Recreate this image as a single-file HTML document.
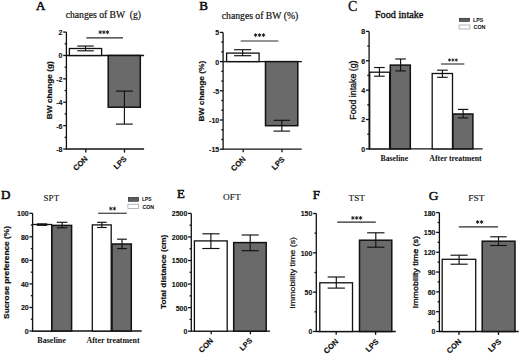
<!DOCTYPE html><html><head><meta charset="utf-8"><style>html,body{margin:0;padding:0;background:#fff;overflow:hidden}svg{display:block}</style></head><body>
<svg width="520" height="354" viewBox="0 0 520 354">
<rect width="520" height="354" fill="#fff"/>
<line x1="66.40" y1="32.10" x2="66.40" y2="149.60" stroke="#111" stroke-width="1.3"/>
<line x1="63.20" y1="32.10" x2="66.40" y2="32.10" stroke="#111" stroke-width="1.3"/>
<line x1="63.20" y1="55.48" x2="66.40" y2="55.48" stroke="#111" stroke-width="1.3"/>
<line x1="63.20" y1="78.86" x2="66.40" y2="78.86" stroke="#111" stroke-width="1.3"/>
<line x1="63.20" y1="102.24" x2="66.40" y2="102.24" stroke="#111" stroke-width="1.3"/>
<line x1="63.20" y1="125.62" x2="66.40" y2="125.62" stroke="#111" stroke-width="1.3"/>
<line x1="63.20" y1="149.00" x2="66.40" y2="149.00" stroke="#111" stroke-width="1.3"/>
<line x1="64.60" y1="43.79" x2="66.40" y2="43.79" stroke="#111" stroke-width="1.3"/>
<line x1="64.60" y1="67.17" x2="66.40" y2="67.17" stroke="#111" stroke-width="1.3"/>
<line x1="64.60" y1="90.55" x2="66.40" y2="90.55" stroke="#111" stroke-width="1.3"/>
<line x1="64.60" y1="113.93" x2="66.40" y2="113.93" stroke="#111" stroke-width="1.3"/>
<line x1="64.60" y1="137.31" x2="66.40" y2="137.31" stroke="#111" stroke-width="1.3"/>
<line x1="66.40" y1="55.48" x2="144.10" y2="55.48" stroke="#111" stroke-width="1.3"/>
<line x1="66.40" y1="149.00" x2="144.10" y2="149.00" stroke="#111" stroke-width="1.3"/>
<line x1="85.80" y1="149.00" x2="85.80" y2="152.60" stroke="#111" stroke-width="1.3"/>
<line x1="124.50" y1="149.00" x2="124.50" y2="152.60" stroke="#111" stroke-width="1.3"/>
<rect x="69.40" y="48.50" width="32.20" height="6.98" fill="#fff" stroke="#111" stroke-width="1.3"/>
<line x1="85.50" y1="46.05" x2="85.50" y2="50.80" stroke="#111" stroke-width="1.15"/>
<line x1="77.25" y1="46.05" x2="93.75" y2="46.05" stroke="#111" stroke-width="1.15"/>
<line x1="77.25" y1="50.80" x2="93.75" y2="50.80" stroke="#111" stroke-width="1.15"/>
<rect x="108.20" y="55.48" width="32.10" height="51.72" fill="#6a6a6a" stroke="#111" stroke-width="1.5"/>
<line x1="124.40" y1="91.10" x2="124.40" y2="124.10" stroke="#111" stroke-width="1.15"/>
<line x1="116.00" y1="91.10" x2="132.80" y2="91.10" stroke="#111" stroke-width="1.15"/>
<line x1="116.00" y1="124.10" x2="132.80" y2="124.10" stroke="#111" stroke-width="1.15"/>
<line x1="86.40" y1="37.85" x2="123.00" y2="37.85" stroke="#2a2a2a" stroke-width="1.1"/>
<line x1="223.10" y1="32.40" x2="223.10" y2="149.80" stroke="#111" stroke-width="1.3"/>
<line x1="219.90" y1="32.40" x2="223.10" y2="32.40" stroke="#111" stroke-width="1.3"/>
<line x1="219.90" y1="61.60" x2="223.10" y2="61.60" stroke="#111" stroke-width="1.3"/>
<line x1="219.90" y1="90.80" x2="223.10" y2="90.80" stroke="#111" stroke-width="1.3"/>
<line x1="219.90" y1="120.00" x2="223.10" y2="120.00" stroke="#111" stroke-width="1.3"/>
<line x1="219.90" y1="149.20" x2="223.10" y2="149.20" stroke="#111" stroke-width="1.3"/>
<line x1="221.30" y1="42.13" x2="223.10" y2="42.13" stroke="#111" stroke-width="1.3"/>
<line x1="221.30" y1="51.87" x2="223.10" y2="51.87" stroke="#111" stroke-width="1.3"/>
<line x1="221.30" y1="71.33" x2="223.10" y2="71.33" stroke="#111" stroke-width="1.3"/>
<line x1="221.30" y1="81.07" x2="223.10" y2="81.07" stroke="#111" stroke-width="1.3"/>
<line x1="221.30" y1="100.53" x2="223.10" y2="100.53" stroke="#111" stroke-width="1.3"/>
<line x1="221.30" y1="110.27" x2="223.10" y2="110.27" stroke="#111" stroke-width="1.3"/>
<line x1="221.30" y1="129.73" x2="223.10" y2="129.73" stroke="#111" stroke-width="1.3"/>
<line x1="221.30" y1="139.47" x2="223.10" y2="139.47" stroke="#111" stroke-width="1.3"/>
<line x1="223.10" y1="61.60" x2="301.90" y2="61.60" stroke="#111" stroke-width="1.3"/>
<line x1="223.10" y1="149.20" x2="301.70" y2="149.20" stroke="#111" stroke-width="1.3"/>
<line x1="243.20" y1="149.20" x2="243.20" y2="152.20" stroke="#111" stroke-width="1.3"/>
<line x1="282.00" y1="149.20" x2="282.00" y2="152.20" stroke="#111" stroke-width="1.3"/>
<rect x="226.60" y="53.10" width="32.50" height="8.50" fill="#fff" stroke="#111" stroke-width="1.3"/>
<line x1="242.65" y1="49.70" x2="242.65" y2="55.70" stroke="#111" stroke-width="1.15"/>
<line x1="234.10" y1="49.70" x2="251.20" y2="49.70" stroke="#111" stroke-width="1.15"/>
<line x1="234.10" y1="55.70" x2="251.20" y2="55.70" stroke="#111" stroke-width="1.15"/>
<rect x="265.50" y="61.60" width="32.30" height="64.10" fill="#6a6a6a" stroke="#111" stroke-width="1.5"/>
<line x1="281.80" y1="120.30" x2="281.80" y2="131.10" stroke="#111" stroke-width="1.15"/>
<line x1="273.50" y1="120.30" x2="290.10" y2="120.30" stroke="#111" stroke-width="1.15"/>
<line x1="273.50" y1="131.10" x2="290.10" y2="131.10" stroke="#111" stroke-width="1.15"/>
<line x1="240.70" y1="41.00" x2="278.30" y2="41.00" stroke="#2a2a2a" stroke-width="1.1"/>
<line x1="369.10" y1="31.40" x2="369.10" y2="149.50" stroke="#111" stroke-width="1.3"/>
<line x1="365.90" y1="31.40" x2="369.10" y2="31.40" stroke="#111" stroke-width="1.3"/>
<line x1="365.90" y1="60.77" x2="369.10" y2="60.77" stroke="#111" stroke-width="1.3"/>
<line x1="365.90" y1="90.15" x2="369.10" y2="90.15" stroke="#111" stroke-width="1.3"/>
<line x1="365.90" y1="119.53" x2="369.10" y2="119.53" stroke="#111" stroke-width="1.3"/>
<line x1="365.90" y1="148.90" x2="369.10" y2="148.90" stroke="#111" stroke-width="1.3"/>
<line x1="367.30" y1="46.09" x2="369.10" y2="46.09" stroke="#111" stroke-width="1.3"/>
<line x1="367.30" y1="75.46" x2="369.10" y2="75.46" stroke="#111" stroke-width="1.3"/>
<line x1="367.30" y1="104.84" x2="369.10" y2="104.84" stroke="#111" stroke-width="1.3"/>
<line x1="367.30" y1="134.21" x2="369.10" y2="134.21" stroke="#111" stroke-width="1.3"/>
<line x1="369.10" y1="148.90" x2="482.60" y2="148.90" stroke="#111" stroke-width="1.3"/>
<rect x="369.70" y="72.20" width="19.90" height="76.70" fill="#fff" stroke="#111" stroke-width="1.3"/>
<line x1="379.40" y1="67.50" x2="379.40" y2="76.20" stroke="#111" stroke-width="1.15"/>
<line x1="374.10" y1="67.50" x2="384.70" y2="67.50" stroke="#111" stroke-width="1.15"/>
<line x1="374.10" y1="76.20" x2="384.70" y2="76.20" stroke="#111" stroke-width="1.15"/>
<rect x="390.30" y="65.10" width="20.00" height="83.80" fill="#6a6a6a" stroke="#111" stroke-width="1.5"/>
<line x1="400.60" y1="59.00" x2="400.60" y2="70.90" stroke="#111" stroke-width="1.15"/>
<line x1="395.30" y1="59.00" x2="405.90" y2="59.00" stroke="#111" stroke-width="1.15"/>
<line x1="395.30" y1="70.90" x2="405.90" y2="70.90" stroke="#111" stroke-width="1.15"/>
<rect x="432.20" y="73.50" width="20.30" height="75.40" fill="#fff" stroke="#111" stroke-width="1.3"/>
<line x1="442.40" y1="70.20" x2="442.40" y2="77.30" stroke="#111" stroke-width="1.15"/>
<line x1="437.10" y1="70.20" x2="447.70" y2="70.20" stroke="#111" stroke-width="1.15"/>
<line x1="437.10" y1="77.30" x2="447.70" y2="77.30" stroke="#111" stroke-width="1.15"/>
<rect x="452.90" y="114.00" width="20.00" height="34.90" fill="#6a6a6a" stroke="#111" stroke-width="1.5"/>
<line x1="463.10" y1="109.40" x2="463.10" y2="117.90" stroke="#111" stroke-width="1.15"/>
<line x1="457.90" y1="109.40" x2="468.30" y2="109.40" stroke="#111" stroke-width="1.15"/>
<line x1="457.90" y1="117.90" x2="468.30" y2="117.90" stroke="#111" stroke-width="1.15"/>
<line x1="441.00" y1="64.00" x2="464.30" y2="64.00" stroke="#2a2a2a" stroke-width="1.1"/>
<rect x="459.30" y="18.20" width="10.40" height="3.30" fill="#5e5c5e" stroke="#111" stroke-width="0.5"/>
<rect x="459.10" y="25.00" width="10.80" height="4.00" fill="#fff" stroke="#9a9a9a" stroke-width="0.7"/>
<line x1="32.60" y1="213.30" x2="32.60" y2="331.60" stroke="#111" stroke-width="1.3"/>
<line x1="29.40" y1="213.30" x2="32.60" y2="213.30" stroke="#111" stroke-width="1.3"/>
<line x1="29.40" y1="236.84" x2="32.60" y2="236.84" stroke="#111" stroke-width="1.3"/>
<line x1="29.40" y1="260.38" x2="32.60" y2="260.38" stroke="#111" stroke-width="1.3"/>
<line x1="29.40" y1="283.92" x2="32.60" y2="283.92" stroke="#111" stroke-width="1.3"/>
<line x1="29.40" y1="307.46" x2="32.60" y2="307.46" stroke="#111" stroke-width="1.3"/>
<line x1="29.40" y1="331.00" x2="32.60" y2="331.00" stroke="#111" stroke-width="1.3"/>
<line x1="30.80" y1="225.07" x2="32.60" y2="225.07" stroke="#111" stroke-width="1.3"/>
<line x1="30.80" y1="248.61" x2="32.60" y2="248.61" stroke="#111" stroke-width="1.3"/>
<line x1="30.80" y1="272.15" x2="32.60" y2="272.15" stroke="#111" stroke-width="1.3"/>
<line x1="30.80" y1="295.69" x2="32.60" y2="295.69" stroke="#111" stroke-width="1.3"/>
<line x1="30.80" y1="319.23" x2="32.60" y2="319.23" stroke="#111" stroke-width="1.3"/>
<line x1="32.60" y1="331.00" x2="141.70" y2="331.00" stroke="#111" stroke-width="1.3"/>
<rect x="32.60" y="224.50" width="19.10" height="106.50" fill="#fff" stroke="#111" stroke-width="1.3"/>
<line x1="36.80" y1="224.60" x2="47.20" y2="224.60" stroke="#111" stroke-width="2.6"/>
<rect x="51.90" y="225.40" width="19.70" height="105.60" fill="#6a6a6a" stroke="#111" stroke-width="1.5"/>
<line x1="62.10" y1="222.30" x2="62.10" y2="227.80" stroke="#111" stroke-width="1.15"/>
<line x1="56.80" y1="222.30" x2="67.40" y2="222.30" stroke="#111" stroke-width="1.15"/>
<line x1="56.80" y1="227.80" x2="67.40" y2="227.80" stroke="#111" stroke-width="1.15"/>
<rect x="92.30" y="224.90" width="18.90" height="106.10" fill="#fff" stroke="#111" stroke-width="1.3"/>
<line x1="101.90" y1="222.30" x2="101.90" y2="227.50" stroke="#111" stroke-width="1.15"/>
<line x1="97.10" y1="222.30" x2="106.70" y2="222.30" stroke="#111" stroke-width="1.15"/>
<line x1="97.10" y1="227.50" x2="106.70" y2="227.50" stroke="#111" stroke-width="1.15"/>
<rect x="112.00" y="244.00" width="19.30" height="87.00" fill="#6a6a6a" stroke="#111" stroke-width="1.5"/>
<line x1="122.00" y1="239.20" x2="122.00" y2="248.60" stroke="#111" stroke-width="1.15"/>
<line x1="117.10" y1="239.20" x2="126.90" y2="239.20" stroke="#111" stroke-width="1.15"/>
<line x1="117.10" y1="248.60" x2="126.90" y2="248.60" stroke="#111" stroke-width="1.15"/>
<line x1="98.10" y1="213.25" x2="126.80" y2="213.25" stroke="#2a2a2a" stroke-width="1.1"/>
<rect x="128.30" y="197.30" width="10.40" height="4.00" fill="#5e5c5e" stroke="#111" stroke-width="0.5"/>
<rect x="127.90" y="204.20" width="10.80" height="4.20" fill="#fff" stroke="#9a9a9a" stroke-width="0.7"/>
<line x1="191.30" y1="213.40" x2="191.30" y2="331.80" stroke="#111" stroke-width="1.3"/>
<line x1="188.10" y1="213.40" x2="191.30" y2="213.40" stroke="#111" stroke-width="1.3"/>
<line x1="188.10" y1="236.96" x2="191.30" y2="236.96" stroke="#111" stroke-width="1.3"/>
<line x1="188.10" y1="260.52" x2="191.30" y2="260.52" stroke="#111" stroke-width="1.3"/>
<line x1="188.10" y1="284.08" x2="191.30" y2="284.08" stroke="#111" stroke-width="1.3"/>
<line x1="188.10" y1="307.64" x2="191.30" y2="307.64" stroke="#111" stroke-width="1.3"/>
<line x1="188.10" y1="331.20" x2="191.30" y2="331.20" stroke="#111" stroke-width="1.3"/>
<line x1="189.50" y1="225.18" x2="191.30" y2="225.18" stroke="#111" stroke-width="1.3"/>
<line x1="189.50" y1="248.74" x2="191.30" y2="248.74" stroke="#111" stroke-width="1.3"/>
<line x1="189.50" y1="272.30" x2="191.30" y2="272.30" stroke="#111" stroke-width="1.3"/>
<line x1="189.50" y1="295.86" x2="191.30" y2="295.86" stroke="#111" stroke-width="1.3"/>
<line x1="189.50" y1="319.42" x2="191.30" y2="319.42" stroke="#111" stroke-width="1.3"/>
<line x1="191.30" y1="331.20" x2="270.00" y2="331.20" stroke="#111" stroke-width="1.3"/>
<line x1="211.20" y1="331.20" x2="211.20" y2="334.30" stroke="#111" stroke-width="1.3"/>
<line x1="250.40" y1="331.20" x2="250.40" y2="334.30" stroke="#111" stroke-width="1.3"/>
<rect x="194.40" y="240.90" width="32.80" height="90.30" fill="#fff" stroke="#111" stroke-width="1.3"/>
<line x1="210.90" y1="233.80" x2="210.90" y2="248.50" stroke="#111" stroke-width="1.15"/>
<line x1="202.30" y1="233.80" x2="219.50" y2="233.80" stroke="#111" stroke-width="1.15"/>
<line x1="202.30" y1="248.50" x2="219.50" y2="248.50" stroke="#111" stroke-width="1.15"/>
<rect x="233.70" y="242.60" width="32.50" height="88.60" fill="#6a6a6a" stroke="#111" stroke-width="1.5"/>
<line x1="250.20" y1="235.00" x2="250.20" y2="250.70" stroke="#111" stroke-width="1.15"/>
<line x1="241.65" y1="235.00" x2="258.75" y2="235.00" stroke="#111" stroke-width="1.15"/>
<line x1="241.65" y1="250.70" x2="258.75" y2="250.70" stroke="#111" stroke-width="1.15"/>
<line x1="316.30" y1="213.50" x2="316.30" y2="332.10" stroke="#111" stroke-width="1.3"/>
<line x1="313.10" y1="213.50" x2="316.30" y2="213.50" stroke="#111" stroke-width="1.3"/>
<line x1="313.10" y1="252.83" x2="316.30" y2="252.83" stroke="#111" stroke-width="1.3"/>
<line x1="313.10" y1="292.17" x2="316.30" y2="292.17" stroke="#111" stroke-width="1.3"/>
<line x1="313.10" y1="331.50" x2="316.30" y2="331.50" stroke="#111" stroke-width="1.3"/>
<line x1="314.50" y1="233.17" x2="316.30" y2="233.17" stroke="#111" stroke-width="1.3"/>
<line x1="314.50" y1="272.50" x2="316.30" y2="272.50" stroke="#111" stroke-width="1.3"/>
<line x1="314.50" y1="311.83" x2="316.30" y2="311.83" stroke="#111" stroke-width="1.3"/>
<line x1="316.30" y1="331.50" x2="395.80" y2="331.50" stroke="#111" stroke-width="1.3"/>
<line x1="336.20" y1="331.50" x2="336.20" y2="334.80" stroke="#111" stroke-width="1.3"/>
<line x1="375.60" y1="331.50" x2="375.60" y2="334.80" stroke="#111" stroke-width="1.3"/>
<rect x="319.80" y="282.80" width="32.70" height="48.70" fill="#fff" stroke="#111" stroke-width="1.3"/>
<line x1="336.30" y1="277.00" x2="336.30" y2="288.10" stroke="#111" stroke-width="1.15"/>
<line x1="327.65" y1="277.00" x2="344.95" y2="277.00" stroke="#111" stroke-width="1.15"/>
<line x1="327.65" y1="288.10" x2="344.95" y2="288.10" stroke="#111" stroke-width="1.15"/>
<rect x="359.50" y="240.20" width="32.30" height="91.30" fill="#6a6a6a" stroke="#111" stroke-width="1.5"/>
<line x1="375.80" y1="232.80" x2="375.80" y2="247.20" stroke="#111" stroke-width="1.15"/>
<line x1="367.15" y1="232.80" x2="384.45" y2="232.80" stroke="#111" stroke-width="1.15"/>
<line x1="367.15" y1="247.20" x2="384.45" y2="247.20" stroke="#111" stroke-width="1.15"/>
<line x1="337.20" y1="222.10" x2="375.80" y2="222.10" stroke="#2a2a2a" stroke-width="1.1"/>
<line x1="439.40" y1="212.60" x2="439.40" y2="332.10" stroke="#111" stroke-width="1.3"/>
<line x1="436.20" y1="212.60" x2="439.40" y2="212.60" stroke="#111" stroke-width="1.3"/>
<line x1="436.20" y1="232.42" x2="439.40" y2="232.42" stroke="#111" stroke-width="1.3"/>
<line x1="436.20" y1="252.23" x2="439.40" y2="252.23" stroke="#111" stroke-width="1.3"/>
<line x1="436.20" y1="272.05" x2="439.40" y2="272.05" stroke="#111" stroke-width="1.3"/>
<line x1="436.20" y1="291.87" x2="439.40" y2="291.87" stroke="#111" stroke-width="1.3"/>
<line x1="436.20" y1="311.68" x2="439.40" y2="311.68" stroke="#111" stroke-width="1.3"/>
<line x1="436.20" y1="331.50" x2="439.40" y2="331.50" stroke="#111" stroke-width="1.3"/>
<line x1="437.60" y1="222.51" x2="439.40" y2="222.51" stroke="#111" stroke-width="1.3"/>
<line x1="437.60" y1="242.32" x2="439.40" y2="242.32" stroke="#111" stroke-width="1.3"/>
<line x1="437.60" y1="262.14" x2="439.40" y2="262.14" stroke="#111" stroke-width="1.3"/>
<line x1="437.60" y1="281.96" x2="439.40" y2="281.96" stroke="#111" stroke-width="1.3"/>
<line x1="437.60" y1="301.77" x2="439.40" y2="301.77" stroke="#111" stroke-width="1.3"/>
<line x1="437.60" y1="321.59" x2="439.40" y2="321.59" stroke="#111" stroke-width="1.3"/>
<line x1="439.40" y1="331.50" x2="518.70" y2="331.50" stroke="#111" stroke-width="1.3"/>
<line x1="459.00" y1="331.50" x2="459.00" y2="335.00" stroke="#111" stroke-width="1.3"/>
<line x1="498.50" y1="331.50" x2="498.50" y2="335.00" stroke="#111" stroke-width="1.3"/>
<rect x="442.20" y="259.30" width="33.50" height="72.20" fill="#fff" stroke="#111" stroke-width="1.3"/>
<line x1="459.10" y1="255.20" x2="459.10" y2="264.20" stroke="#111" stroke-width="1.15"/>
<line x1="450.50" y1="255.20" x2="467.70" y2="255.20" stroke="#111" stroke-width="1.15"/>
<line x1="450.50" y1="264.20" x2="467.70" y2="264.20" stroke="#111" stroke-width="1.15"/>
<rect x="482.20" y="241.20" width="32.80" height="90.30" fill="#6a6a6a" stroke="#111" stroke-width="1.5"/>
<line x1="498.50" y1="236.80" x2="498.50" y2="245.50" stroke="#111" stroke-width="1.15"/>
<line x1="490.25" y1="236.80" x2="506.75" y2="236.80" stroke="#111" stroke-width="1.15"/>
<line x1="490.25" y1="245.50" x2="506.75" y2="245.50" stroke="#111" stroke-width="1.15"/>
<line x1="458.80" y1="226.90" x2="498.00" y2="226.90" stroke="#2a2a2a" stroke-width="1.1"/>
<path d="M100.20 30.70L100.20 33.70M98.90 31.45L101.50 32.95M101.50 31.45L98.90 32.95" stroke="#111" stroke-width="0.85" stroke-linecap="round"/>
<path d="M103.90 30.70L103.90 33.70M102.60 31.45L105.20 32.95M105.20 31.45L102.60 32.95" stroke="#111" stroke-width="0.85" stroke-linecap="round"/>
<path d="M107.50 30.70L107.50 33.70M106.20 31.45L108.80 32.95M108.80 31.45L106.20 32.95" stroke="#111" stroke-width="0.85" stroke-linecap="round"/>
<path d="M255.60 33.60L255.60 36.60M254.30 34.35L256.90 35.85M256.90 34.35L254.30 35.85" stroke="#111" stroke-width="0.85" stroke-linecap="round"/>
<path d="M259.55 33.60L259.55 36.60M258.25 34.35L260.85 35.85M260.85 34.35L258.25 35.85" stroke="#111" stroke-width="0.85" stroke-linecap="round"/>
<path d="M263.50 33.60L263.50 36.60M262.20 34.35L264.80 35.85M264.80 34.35L262.20 35.85" stroke="#111" stroke-width="0.85" stroke-linecap="round"/>
<path d="M449.50 58.75L449.50 61.25M448.42 59.38L450.58 60.62M450.58 59.38L448.42 60.62" stroke="#111" stroke-width="0.75" stroke-linecap="round"/>
<path d="M452.90 58.75L452.90 61.25M451.82 59.38L453.98 60.62M453.98 59.38L451.82 60.62" stroke="#111" stroke-width="0.75" stroke-linecap="round"/>
<path d="M456.30 58.75L456.30 61.25M455.22 59.38L457.38 60.62M457.38 59.38L455.22 60.62" stroke="#111" stroke-width="0.75" stroke-linecap="round"/>
<path d="M110.80 207.10L110.80 210.10M109.50 207.85L112.10 209.35M112.10 207.85L109.50 209.35" stroke="#111" stroke-width="0.85" stroke-linecap="round"/>
<path d="M114.40 207.10L114.40 210.10M113.10 207.85L115.70 209.35M115.70 207.85L113.10 209.35" stroke="#111" stroke-width="0.85" stroke-linecap="round"/>
<path d="M352.90 216.40L352.90 219.40M351.60 217.15L354.20 218.65M354.20 217.15L351.60 218.65" stroke="#111" stroke-width="0.85" stroke-linecap="round"/>
<path d="M356.75 216.40L356.75 219.40M355.45 217.15L358.05 218.65M358.05 217.15L355.45 218.65" stroke="#111" stroke-width="0.85" stroke-linecap="round"/>
<path d="M360.60 216.40L360.60 219.40M359.30 217.15L361.90 218.65M361.90 217.15L359.30 218.65" stroke="#111" stroke-width="0.85" stroke-linecap="round"/>
<path d="M477.60 220.50L477.60 223.50M476.30 221.25L478.90 222.75M478.90 221.25L476.30 222.75" stroke="#111" stroke-width="0.85" stroke-linecap="round"/>
<path d="M481.60 220.50L481.60 223.50M480.30 221.25L482.90 222.75M482.90 221.25L480.30 222.75" stroke="#111" stroke-width="0.85" stroke-linecap="round"/>
<text x="36.08" y="9.80" font-family='"Liberation Serif", serif' font-size="13.00" font-weight="normal" fill="#111" stroke="#111" stroke-width="0.6">A</text>
<text x="199.32" y="9.96" font-family='"Liberation Serif", serif' font-size="13.00" font-weight="normal" fill="#111" stroke="#111" stroke-width="0.6">B</text>
<text x="348.08" y="10.92" font-family='"Liberation Serif", serif' font-size="14.00" font-weight="normal" fill="#111" stroke="#111" stroke-width="0.3">C</text>
<text x="1.00" y="199.24" font-family='"Liberation Serif", serif' font-size="13.00" font-weight="normal" fill="#111" stroke="#111" stroke-width="0.6">D</text>
<text x="176.98" y="198.24" font-family='"Liberation Serif", serif' font-size="12.80" font-weight="normal" fill="#111" stroke="#111" stroke-width="0.6">E</text>
<text x="312.64" y="199.24" font-family='"Liberation Serif", serif' font-size="13.00" font-weight="normal" fill="#111" stroke="#111" stroke-width="0.6">F</text>
<text x="428.66" y="200.12" font-family='"Liberation Serif", serif' font-size="13.50" font-weight="normal" fill="#111" stroke="#111" stroke-width="0.45">G</text>
<text x="65.68" y="18.16" font-family='"Liberation Serif", serif' font-size="9.80" font-weight="normal" fill="#111" stroke="#111" stroke-width="0.2" textLength="59.50" lengthAdjust="spacingAndGlyphs">changes of BW</text>
<text x="129.76" y="17.84" font-family='"Liberation Serif", serif' font-size="9.80" font-weight="normal" fill="#111" stroke="#111" stroke-width="0.2" textLength="11.16" lengthAdjust="spacingAndGlyphs">(g)</text>
<text x="221.76" y="18.56" font-family='"Liberation Serif", serif' font-size="9.80" font-weight="normal" fill="#111" stroke="#111" stroke-width="0.2" textLength="76.48" lengthAdjust="spacingAndGlyphs">changes of BW (%)</text>
<text x="374.90" y="17.72" font-family='"Liberation Serif", serif' font-size="10.00" font-weight="normal" fill="#111" stroke="#111" stroke-width="0.35" textLength="48.50" lengthAdjust="spacingAndGlyphs">Food intake</text>
<text x="43.62" y="200.88" font-family='"Liberation Serif", serif' font-size="9.00" font-weight="normal" fill="#111" stroke="#111" stroke-width="0.12" textLength="15.54" lengthAdjust="spacingAndGlyphs">SPT</text>
<text x="223.10" y="200.44" font-family='"Liberation Serif", serif' font-size="9.00" font-weight="normal" fill="#111" stroke="#111" stroke-width="0.12" textLength="17.68" lengthAdjust="spacingAndGlyphs">OFT</text>
<text x="348.52" y="200.96" font-family='"Liberation Serif", serif' font-size="9.00" font-weight="normal" fill="#111" stroke="#111" stroke-width="0.12" textLength="16.36" lengthAdjust="spacingAndGlyphs">TST</text>
<text x="468.34" y="200.96" font-family='"Liberation Serif", serif' font-size="9.00" font-weight="normal" fill="#111" stroke="#111" stroke-width="0.12" textLength="16.20" lengthAdjust="spacingAndGlyphs">FST</text>
<text x="380.44" y="161.00" font-family='"Liberation Serif", serif' font-size="7.40" font-weight="bold" fill="#111" textLength="27.72" lengthAdjust="spacingAndGlyphs">Baseline</text>
<text x="429.38" y="161.00" font-family='"Liberation Serif", serif' font-size="7.40" font-weight="bold" fill="#111" textLength="52.30" lengthAdjust="spacingAndGlyphs">After treatment</text>
<text x="37.34" y="342.96" font-family='"Liberation Serif", serif' font-size="7.40" font-weight="bold" fill="#111" textLength="28.58" lengthAdjust="spacingAndGlyphs">Baseline</text>
<text x="86.52" y="342.96" font-family='"Liberation Serif", serif' font-size="7.40" font-weight="bold" fill="#111" textLength="53.16" lengthAdjust="spacingAndGlyphs">After treatment</text>
<text x="473.10" y="21.82" font-family='"Liberation Sans", sans-serif' font-size="5.80" font-weight="bold" fill="#111" stroke="#111" stroke-width="0.05" textLength="10.16" lengthAdjust="spacingAndGlyphs">LPS</text>
<text x="473.52" y="29.06" font-family='"Liberation Sans", sans-serif' font-size="5.80" font-weight="bold" fill="#111" stroke="#111" stroke-width="0.05" textLength="12.02" lengthAdjust="spacingAndGlyphs">CON</text>
<text x="142.10" y="201.34" font-family='"Liberation Sans", sans-serif' font-size="5.80" font-weight="bold" fill="#111" stroke="#111" stroke-width="0.05" textLength="9.40" lengthAdjust="spacingAndGlyphs">LPS</text>
<text x="142.52" y="208.52" font-family='"Liberation Sans", sans-serif' font-size="5.80" font-weight="bold" fill="#111" stroke="#111" stroke-width="0.05" textLength="11.64" lengthAdjust="spacingAndGlyphs">CON</text>
<text transform="translate(49.28,90.18) rotate(-90)" x="0" y="0" dy="0.35em" font-family='"Liberation Sans", sans-serif' font-size="7.60" font-weight="bold" fill="#111" stroke="#111" stroke-width="0.2" text-anchor="middle" textLength="57.96" lengthAdjust="spacingAndGlyphs">BW change (g)</text>
<text transform="translate(201.28,91.10) rotate(-90)" x="0" y="0" dy="0.35em" font-family='"Liberation Sans", sans-serif' font-size="7.60" font-weight="bold" fill="#111" stroke="#111" stroke-width="0.2" text-anchor="middle" textLength="60.78" lengthAdjust="spacingAndGlyphs">BW change (%)</text>
<text transform="translate(353.04,90.10) rotate(-90)" x="0" y="0" dy="0.35em" font-family='"Liberation Sans", sans-serif' font-size="8.20" font-weight="normal" fill="#111" stroke="#111" stroke-width="0.3" text-anchor="middle" textLength="59.20" lengthAdjust="spacingAndGlyphs">Food intake (g)</text>
<text transform="translate(6.40,272.46) rotate(-90)" x="0" y="0" dy="0.35em" font-family='"Liberation Sans", sans-serif' font-size="7.60" font-weight="bold" fill="#111" stroke="#111" stroke-width="0.2" text-anchor="middle" textLength="92.88" lengthAdjust="spacingAndGlyphs">Sucrose preference (%)</text>
<text transform="translate(163.28,271.82) rotate(-90)" x="0" y="0" dy="0.35em" font-family='"Liberation Sans", sans-serif' font-size="7.60" font-weight="bold" fill="#111" stroke="#111" stroke-width="0.2" text-anchor="middle" textLength="74.24" lengthAdjust="spacingAndGlyphs">Total distance (cm)</text>
<text transform="translate(292.24,272.80) rotate(-90)" x="0" y="0" dy="0.35em" font-family='"Liberation Sans", sans-serif' font-size="7.60" font-weight="normal" fill="#111" stroke="#111" stroke-width="0.2" text-anchor="middle" textLength="71.66" lengthAdjust="spacingAndGlyphs">Immobility time (s)</text>
<text transform="translate(415.28,272.18) rotate(-90)" x="0" y="0" dy="0.35em" font-family='"Liberation Sans", sans-serif' font-size="7.70" font-weight="normal" fill="#111" stroke="#111" stroke-width="0.35" text-anchor="middle" textLength="72.30" lengthAdjust="spacingAndGlyphs">Immobility time (s)</text>
<text transform="translate(88.26,159.32) rotate(-45)" x="0" y="0" font-family='"Liberation Sans", sans-serif' font-size="7.67" font-weight="bold" fill="#111" stroke="#111" stroke-width="0.15" text-anchor="end">CON</text>
<text transform="translate(127.24,159.28) rotate(-45)" x="0" y="0" font-family='"Liberation Sans", sans-serif' font-size="7.69" font-weight="bold" fill="#111" stroke="#111" stroke-width="0.15" text-anchor="end">LPS</text>
<text transform="translate(246.28,159.56) rotate(-45)" x="0" y="0" font-family='"Liberation Sans", sans-serif' font-size="7.78" font-weight="bold" fill="#111" stroke="#111" stroke-width="0.15" text-anchor="end">CON</text>
<text transform="translate(285.06,159.96) rotate(-45)" x="0" y="0" font-family='"Liberation Sans", sans-serif' font-size="7.59" font-weight="bold" fill="#111" stroke="#111" stroke-width="0.15" text-anchor="end">LPS</text>
<text transform="translate(213.74,341.24) rotate(-45)" x="0" y="0" font-family='"Liberation Sans", sans-serif' font-size="7.60" font-weight="bold" fill="#111" stroke="#111" stroke-width="0.15" text-anchor="end">CON</text>
<text transform="translate(252.66,341.12) rotate(-45)" x="0" y="0" font-family='"Liberation Sans", sans-serif' font-size="7.39" font-weight="bold" fill="#111" stroke="#111" stroke-width="0.15" text-anchor="end">LPS</text>
<text transform="translate(338.94,342.12) rotate(-45)" x="0" y="0" font-family='"Liberation Sans", sans-serif' font-size="7.69" font-weight="bold" fill="#111" stroke="#111" stroke-width="0.15" text-anchor="end">CON</text>
<text transform="translate(379.16,342.04) rotate(-45)" x="0" y="0" font-family='"Liberation Sans", sans-serif' font-size="7.63" font-weight="bold" fill="#111" stroke="#111" stroke-width="0.15" text-anchor="end">LPS</text>
<text transform="translate(461.80,341.92) rotate(-45)" x="0" y="0" font-family='"Liberation Sans", sans-serif' font-size="7.63" font-weight="bold" fill="#111" stroke="#111" stroke-width="0.15" text-anchor="end">CON</text>
<text transform="translate(501.82,342.04) rotate(-45)" x="0" y="0" font-family='"Liberation Sans", sans-serif' font-size="7.69" font-weight="bold" fill="#111" stroke="#111" stroke-width="0.15" text-anchor="end">LPS</text>
<text x="62.50" y="35.05" font-family='"Liberation Sans", sans-serif' font-size="7.00" font-weight="bold" fill="#111" stroke="#111" stroke-width="0.12" text-anchor="end">2</text>
<text x="62.50" y="58.43" font-family='"Liberation Sans", sans-serif' font-size="7.00" font-weight="bold" fill="#111" stroke="#111" stroke-width="0.12" text-anchor="end">0</text>
<text x="62.50" y="81.81" font-family='"Liberation Sans", sans-serif' font-size="7.00" font-weight="bold" fill="#111" stroke="#111" stroke-width="0.12" text-anchor="end">-2</text>
<text x="62.50" y="105.19" font-family='"Liberation Sans", sans-serif' font-size="7.00" font-weight="bold" fill="#111" stroke="#111" stroke-width="0.12" text-anchor="end">-4</text>
<text x="62.50" y="128.57" font-family='"Liberation Sans", sans-serif' font-size="7.00" font-weight="bold" fill="#111" stroke="#111" stroke-width="0.12" text-anchor="end">-6</text>
<text x="62.50" y="151.95" font-family='"Liberation Sans", sans-serif' font-size="7.00" font-weight="bold" fill="#111" stroke="#111" stroke-width="0.12" text-anchor="end">-8</text>
<text x="219.20" y="35.35" font-family='"Liberation Sans", sans-serif' font-size="7.00" font-weight="bold" fill="#111" stroke="#111" stroke-width="0.12" text-anchor="end">5</text>
<text x="219.20" y="64.55" font-family='"Liberation Sans", sans-serif' font-size="7.00" font-weight="bold" fill="#111" stroke="#111" stroke-width="0.12" text-anchor="end">0</text>
<text x="219.20" y="93.75" font-family='"Liberation Sans", sans-serif' font-size="7.00" font-weight="bold" fill="#111" stroke="#111" stroke-width="0.12" text-anchor="end">-5</text>
<text x="219.20" y="122.95" font-family='"Liberation Sans", sans-serif' font-size="7.00" font-weight="bold" fill="#111" stroke="#111" stroke-width="0.12" text-anchor="end">-10</text>
<text x="219.20" y="152.15" font-family='"Liberation Sans", sans-serif' font-size="7.00" font-weight="bold" fill="#111" stroke="#111" stroke-width="0.12" text-anchor="end">-15</text>
<text x="365.20" y="34.35" font-family='"Liberation Sans", sans-serif' font-size="7.00" font-weight="bold" fill="#111" stroke="#111" stroke-width="0.12" text-anchor="end">8</text>
<text x="365.20" y="63.73" font-family='"Liberation Sans", sans-serif' font-size="7.00" font-weight="bold" fill="#111" stroke="#111" stroke-width="0.12" text-anchor="end">6</text>
<text x="365.20" y="93.10" font-family='"Liberation Sans", sans-serif' font-size="7.00" font-weight="bold" fill="#111" stroke="#111" stroke-width="0.12" text-anchor="end">4</text>
<text x="365.20" y="122.48" font-family='"Liberation Sans", sans-serif' font-size="7.00" font-weight="bold" fill="#111" stroke="#111" stroke-width="0.12" text-anchor="end">2</text>
<text x="365.20" y="151.85" font-family='"Liberation Sans", sans-serif' font-size="7.00" font-weight="bold" fill="#111" stroke="#111" stroke-width="0.12" text-anchor="end">0</text>
<text x="28.70" y="216.25" font-family='"Liberation Sans", sans-serif' font-size="7.00" font-weight="bold" fill="#111" stroke="#111" stroke-width="0.12" text-anchor="end">100</text>
<text x="28.70" y="239.79" font-family='"Liberation Sans", sans-serif' font-size="7.00" font-weight="bold" fill="#111" stroke="#111" stroke-width="0.12" text-anchor="end">80</text>
<text x="28.70" y="263.33" font-family='"Liberation Sans", sans-serif' font-size="7.00" font-weight="bold" fill="#111" stroke="#111" stroke-width="0.12" text-anchor="end">60</text>
<text x="28.70" y="286.87" font-family='"Liberation Sans", sans-serif' font-size="7.00" font-weight="bold" fill="#111" stroke="#111" stroke-width="0.12" text-anchor="end">40</text>
<text x="28.70" y="310.41" font-family='"Liberation Sans", sans-serif' font-size="7.00" font-weight="bold" fill="#111" stroke="#111" stroke-width="0.12" text-anchor="end">20</text>
<text x="28.70" y="333.95" font-family='"Liberation Sans", sans-serif' font-size="7.00" font-weight="bold" fill="#111" stroke="#111" stroke-width="0.12" text-anchor="end">0</text>
<text x="187.40" y="216.35" font-family='"Liberation Sans", sans-serif' font-size="7.00" font-weight="bold" fill="#111" stroke="#111" stroke-width="0.12" text-anchor="end">2500</text>
<text x="187.40" y="239.91" font-family='"Liberation Sans", sans-serif' font-size="7.00" font-weight="bold" fill="#111" stroke="#111" stroke-width="0.12" text-anchor="end">2000</text>
<text x="187.40" y="263.47" font-family='"Liberation Sans", sans-serif' font-size="7.00" font-weight="bold" fill="#111" stroke="#111" stroke-width="0.12" text-anchor="end">1500</text>
<text x="187.40" y="287.03" font-family='"Liberation Sans", sans-serif' font-size="7.00" font-weight="bold" fill="#111" stroke="#111" stroke-width="0.12" text-anchor="end">1000</text>
<text x="187.40" y="310.59" font-family='"Liberation Sans", sans-serif' font-size="7.00" font-weight="bold" fill="#111" stroke="#111" stroke-width="0.12" text-anchor="end">500</text>
<text x="187.40" y="334.15" font-family='"Liberation Sans", sans-serif' font-size="7.00" font-weight="bold" fill="#111" stroke="#111" stroke-width="0.12" text-anchor="end">0</text>
<text x="312.40" y="216.45" font-family='"Liberation Sans", sans-serif' font-size="7.00" font-weight="bold" fill="#111" stroke="#111" stroke-width="0.12" text-anchor="end">150</text>
<text x="312.40" y="255.78" font-family='"Liberation Sans", sans-serif' font-size="7.00" font-weight="bold" fill="#111" stroke="#111" stroke-width="0.12" text-anchor="end">100</text>
<text x="312.40" y="295.12" font-family='"Liberation Sans", sans-serif' font-size="7.00" font-weight="bold" fill="#111" stroke="#111" stroke-width="0.12" text-anchor="end">50</text>
<text x="312.40" y="334.45" font-family='"Liberation Sans", sans-serif' font-size="7.00" font-weight="bold" fill="#111" stroke="#111" stroke-width="0.12" text-anchor="end">0</text>
<text x="435.50" y="215.55" font-family='"Liberation Sans", sans-serif' font-size="7.00" font-weight="bold" fill="#111" stroke="#111" stroke-width="0.12" text-anchor="end">180</text>
<text x="435.50" y="235.37" font-family='"Liberation Sans", sans-serif' font-size="7.00" font-weight="bold" fill="#111" stroke="#111" stroke-width="0.12" text-anchor="end">150</text>
<text x="435.50" y="255.18" font-family='"Liberation Sans", sans-serif' font-size="7.00" font-weight="bold" fill="#111" stroke="#111" stroke-width="0.12" text-anchor="end">120</text>
<text x="435.50" y="275.00" font-family='"Liberation Sans", sans-serif' font-size="7.00" font-weight="bold" fill="#111" stroke="#111" stroke-width="0.12" text-anchor="end">90</text>
<text x="435.50" y="294.82" font-family='"Liberation Sans", sans-serif' font-size="7.00" font-weight="bold" fill="#111" stroke="#111" stroke-width="0.12" text-anchor="end">60</text>
<text x="435.50" y="314.63" font-family='"Liberation Sans", sans-serif' font-size="7.00" font-weight="bold" fill="#111" stroke="#111" stroke-width="0.12" text-anchor="end">30</text>
<text x="435.50" y="334.45" font-family='"Liberation Sans", sans-serif' font-size="7.00" font-weight="bold" fill="#111" stroke="#111" stroke-width="0.12" text-anchor="end">0</text>
</svg></body></html>
